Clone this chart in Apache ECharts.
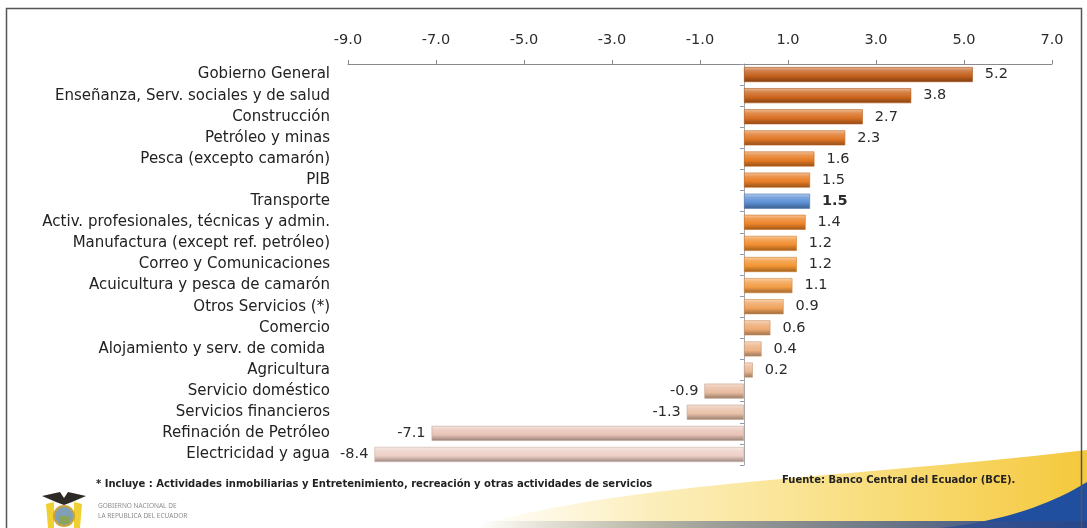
<!DOCTYPE html>
<html>
<head>
<meta charset="utf-8">
<script src="https://cdn.jsdelivr.net/npm/echarts@6/dist/echarts.min.js"></script>
<style>
	html, body { margin: 0; padding: 0; background: #fff; }
	#chart { width: 1087px; height: 528px; }
</style>
</head>
<body>
<div id="chart"></div>
<script>
// sectores (de arriba hacia abajo)
var categories = [
	'Gobierno General',
	'Enseñanza, Serv. sociales y de salud',
	'Construcción',
	'Petróleo y minas',
	'Pesca (excepto camarón)',
	'PIB',
	'Transporte',
	'Activ. profesionales, técnicas y admin.',
	'Manufactura (except ref. petróleo)',
	'Correo y Comunicaciones',
	'Acuicultura y pesca de camarón',
	'Otros Servicios (*)',
	'Comercio',
	'Alojamiento y serv. de comida ',
	'Agricultura',
	'Servicio doméstico',
	'Servicios financieros',
	'Refinación de Petróleo',
	'Electricidad y agua'
];
// variación (%)
var values = [5.2, 3.8, 2.7, 2.3, 1.6, 1.5, 1.5, 1.4, 1.2, 1.2, 1.1, 0.9, 0.6, 0.4, 0.2, -0.9, -1.3, -7.1, -8.4];
// eje de valores
var axisMin = -9;
var axisMax = 7;
var axisStep = 2;
var highlighted = 'Transporte';

var footnote = '* Incluye : Actividades inmobiliarias y Entretenimiento, recreación y otras actividades de servicios';
var source = 'Fuente: Banco Central del Ecuador (BCE).';

//colores de las barras
var palette = ['#C4601C', '#CD661E', '#DA7023', '#E07626', '#E57A24', '#E77D26', '#5B8FD4',
	'#EE8428', '#F18D2E', '#F39532', '#F29D46', '#F0A35C', '#EEAA74', '#ECB286',
	'#E9B893', '#E8BCA0', '#E8C0A8', '#E8C3B6', '#EDD0C6'];

var FONT = 'DejaVu Sans';

function mix(hex, target, t) {
	var c = parseInt(hex.slice(1), 16);
	var r = (c >> 16) & 255, g = (c >> 8) & 255, b = c & 255;
	r = Math.round(r + (target - r) * t);
	g = Math.round(g + (target - g) * t);
	b = Math.round(b + (target - b) * t);
	return 'rgb(' + r + ',' + g + ',' + b + ')';
}

function linear(x2, y2, stops) {
	return { type: 'linear', x: 0, y: 0, x2: x2, y2: y2, colorStops: stops };
}

function barFill(hex) {
	return linear(0, 1, [
		{ offset: 0, color: mix(hex, 255, 0.55) },
		{ offset: 0.25, color: mix(hex, 255, 0.2) },
		{ offset: 0.6, color: hex },
		{ offset: 1, color: mix(hex, 0, 0.35) }
	]);
}

//curva bezier -> puntos (decoracion)
function curve(p0, p1, p2, p3, n) {
	var pts = [];
	for (var i = 0; i <= n; i++) {
		var t = i / n, u = 1 - t;
		pts.push([
			u * u * u * p0[0] + 3 * u * u * t * p1[0] + 3 * u * t * t * p2[0] + t * t * t * p3[0],
			u * u * u * p0[1] + 3 * u * u * t * p1[1] + 3 * u * t * t * p2[1] + t * t * t * p3[1]
		]);
	}
	return pts;
}

var yellowPts = curve([470, 528], [620, 482], [850, 478], [1087, 450], 40).concat([[1087, 528]]);
var bluePts = curve([940, 528], [995, 522], [1045, 508], [1087, 482], 20).concat([[1087, 528]]);

var seriesData = values.map(function (v, i) {
	var isHi = categories[i] === highlighted;
	return {
		value: v,
		itemStyle: { color: barFill(palette[i]), borderColor: mix(palette[i], 0, 0.15), borderWidth: 0.6 },
		label: {
			position: v < 0 ? 'left' : 'right',
			distance: v < 0 ? 6 : 12,
			fontWeight: isHi ? 'bold' : 'normal'
		}
	};
});

var chart = echarts.init(document.getElementById('chart'));

chart.setOption({
	backgroundColor: '#ffffff',
	animation: false,
	textStyle: { fontFamily: FONT },
	grid: { left: 348, right: 35, top: 64, bottom: 63 },
	xAxis: {
		type: 'value',
		position: 'top',
		min: axisMin,
		max: axisMax,
		interval: axisStep,
		axisLine: { show: true, lineStyle: { color: '#8a8a8a', width: 1 } },
		axisTick: { show: true, length: 4, lineStyle: { color: '#8a8a8a' } },
		splitLine: { show: false },
		axisLabel: {
			margin: 16,
			fontSize: 14.5,
			color: '#2b2b2b',
			fontFamily: FONT,
			formatter: function (v) { return v.toFixed(1); }
		}
	},
	yAxis: [{
		type: 'category',
		data: categories,
		inverse: true,
		position: 'left',
		axisLine: { show: false, onZero: false },
		axisTick: { show: false },
		axisLabel: { margin: 18, fontSize: 15, color: '#222', fontFamily: FONT }
	}, {
		//linea del cero
		type: 'category',
		data: categories,
		inverse: true,
		position: 'left',
		axisLine: { show: true, onZero: true, lineStyle: { color: '#a8a8a8', width: 1 } },
		axisTick: { show: true, length: 4, lineStyle: { color: '#8e9ab8' } },
		axisLabel: { show: false }
	}],
	series: [{
		type: 'bar',
		yAxisIndex: 0,
		data: seriesData,
		barWidth: 15,
		label: {
			show: true,
			fontSize: 14.5,
			color: '#2b2b2b',
			fontFamily: FONT,
			formatter: function (p) { return p.value.toFixed(1); }
		}
	}],
	graphic: [
		// franja amarilla inferior
		{
			type: 'polygon', z: -10, silent: true,
			shape: { points: yellowPts },
			style: {
				fill: linear(1, 0, [
					{ offset: 0, color: 'rgba(250,230,150,0)' },
					{ offset: 0.3, color: 'rgba(249,226,140,0.6)' },
					{ offset: 0.65, color: 'rgba(248,218,110,0.9)' },
					{ offset: 1, color: 'rgba(245,200,60,1)' }
				])
			}
		},
		// franja azul
		{
			type: 'polygon', z: -9, silent: true,
			shape: { points: bluePts },
			style: { fill: '#1f4f9e' }
		},
		{
			type: 'rect', z: -9, silent: true,
			shape: { x: 480, y: 521, width: 607, height: 7 },
			style: {
				fill: linear(1, 0, [
					{ offset: 0, color: 'rgba(90,105,140,0)' },
					{ offset: 0.4, color: 'rgba(90,105,140,0.6)' },
					{ offset: 1, color: 'rgba(40,70,140,1)' }
				])
			}
		},
		// marco
		{
			type: 'rect', z: 100, silent: true,
			shape: { x: 6.5, y: 8.5, width: 1075, height: 540 },
			style: { fill: 'none', stroke: '#555', lineWidth: 1.5 }
		},
		// notas
		{
			type: 'text', left: 96, top: 479, silent: true,
			style: { text: footnote, font: 'bold 10px "DejaVu Sans"', fill: '#222' }
		},
		{
			type: 'text', left: 782, top: 475, silent: true,
			style: { text: source, font: 'bold 10px "DejaVu Sans"', fill: '#222' }
		},
		// escudo
		{
			type: 'group', left: 42, top: 492, silent: true,
			children: [
				{ type: 'polygon', shape: { points: [[0, 4], [18, 0], [22, 6], [26, 0], [44, 4], [30, 10], [22, 13], [14, 10]] }, style: { fill: '#2d2a26' } },
				{ type: 'polygon', shape: { points: [[4, 12], [12, 10], [12, 36], [6, 36]] }, style: { fill: '#f0d030' } },
				{ type: 'polygon', shape: { points: [[40, 12], [32, 10], [32, 36], [38, 36]] }, style: { fill: '#f0d030' } },
				{ type: 'circle', shape: { cx: 22, cy: 24, r: 10 }, style: { fill: '#7f9fb8', stroke: '#c9a43a', lineWidth: 2 } },
				{ type: 'rect', shape: { x: 17, y: 24, width: 10, height: 8 }, style: { fill: '#8aa45a' } }
			]
		},
		{
			type: 'text', left: 98, top: 501, silent: true,
			style: { text: 'GOBIERNO NACIONAL DE\nLA REPUBLICA DEL ECUADOR', font: '6.5px "Noto Sans"', fill: '#8c8c8c', lineHeight: 10 }
		}
	]
});
</script>
</body>
</html>
